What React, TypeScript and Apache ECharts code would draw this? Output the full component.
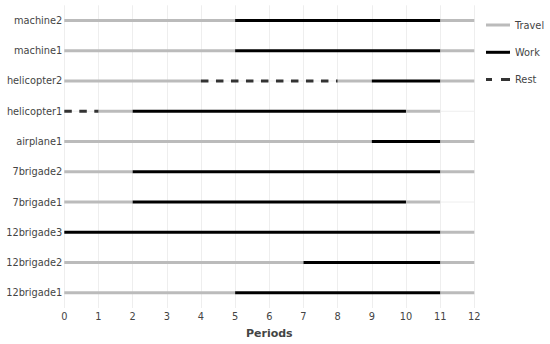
import React, { useEffect, useRef } from "react";
import * as echarts from "echarts";

const categories = [
  "12brigade1",
  "12brigade2",
  "12brigade3",
  "7brigade1",
  "7brigade2",
  "airplane1",
  "helicopter1",
  "helicopter2",
  "machine1",
  "machine2",
];

const xTicks = [0, 1, 2, 3, 4, 5, 6, 7, 8, 9, 10, 11, 12];

const legendNames = ["Travel", "Work", "Rest"];

// [row, start period, end period]
const travelSegments: [string, number, number][] = [
  ["machine2", 0, 5], ["machine2", 11, 12],
  ["machine1", 0, 5], ["machine1", 11, 12],
  ["helicopter2", 0, 4], ["helicopter2", 8, 9], ["helicopter2", 11, 12],
  ["helicopter1", 1, 2], ["helicopter1", 10, 11],
  ["airplane1", 0, 9], ["airplane1", 11, 12],
  ["7brigade2", 0, 2], ["7brigade2", 11, 12],
  ["7brigade1", 0, 2], ["7brigade1", 10, 11],
  ["12brigade3", 11, 12],
  ["12brigade2", 0, 7], ["12brigade2", 11, 12],
  ["12brigade1", 0, 5], ["12brigade1", 11, 12],
];

const workSegments: [string, number, number][] = [
  ["machine2", 5, 11],
  ["machine1", 5, 11],
  ["helicopter2", 9, 11],
  ["helicopter1", 2, 10],
  ["airplane1", 9, 11],
  ["7brigade2", 2, 11],
  ["7brigade1", 2, 10],
  ["12brigade3", 0, 11],
  ["12brigade2", 7, 11],
  ["12brigade1", 5, 11],
];

const restSegments: [string, number, number][] = [
  ["helicopter2", 4, 8],
  ["helicopter1", 0, 1],
];

const FONT = "'DejaVu Sans', Verdana, sans-serif";
const FS = 9.8;

export default function App() {
  const ref = useRef<HTMLDivElement>(null);

  useEffect(() => {
    if (!ref.current) return;
    const chart = echarts.init(ref.current, undefined, { renderer: "svg" });
    const xMin = xTicks[0];
    const xMax = xTicks[xTicks.length - 1];

    const gridRows = categories.map((c) => ({
      type: "line",
      name: "_grid",
      silent: true,
      symbol: "none",
      z: 0,
      lineStyle: { color: "#eeeeee", width: 1 },
      data: [[xMin, c], [xMax, c]],
      tooltip: { show: false },
    }));

    const mk = (
      segs: [string, number, number][],
      name: string,
      lineStyle: any,
      z: number
    ) =>
      segs.map(([row, s, e]) => ({
        type: "line",
        name,
        symbol: "none",
        z,
        lineStyle,
        itemStyle: { color: lineStyle.color },
        data: [[s, row], [e, row]],
      }));

    const series = [
      ...gridRows,
      ...mk(travelSegments, "Travel", { color: "#bbbbbb", width: 3, cap: "butt" }, 2),
      ...mk(workSegments, "Work", { color: "#000000", width: 3, cap: "butt" }, 3),
      ...mk(restSegments, "Rest", { color: "#333333", width: 3, type: [7.5, 7.5], cap: "butt" }, 3),
    ];

    const icons: Record<string, string> = {
      Travel: "rect",
      Work: "rect",
      Rest: "path://M0,0H6V3H0Z M15,0H24V3H15Z",
    };

    chart.setOption({
      animation: false,
      backgroundColor: "#ffffff",
      textStyle: { fontFamily: FONT },
      grid: { left: 64.3, right: 75.7, top: 5.3, bottom: 34.5 },
      legend: {
        data: legendNames.map((n) => ({ name: n, icon: icons[n] })),
        orient: "vertical",
        left: 481,
        top: 15,
        itemWidth: 24,
        itemHeight: 3,
        itemGap: 17.3,
        itemStyle: { borderWidth: 0 },
        lineStyle: { width: 0 },
        textStyle: { color: "#444", fontSize: FS, fontFamily: FONT },
      },
      xAxis: {
        type: "value",
        min: xMin,
        max: xMax,
        interval: 1,
        name: "Periods",
        nameLocation: "middle",
        nameGap: 20,
        nameTextStyle: { color: "#444", fontSize: 11, fontWeight: "bold", fontFamily: FONT },
        axisLine: { show: false },
        axisTick: { show: false },
        axisLabel: { color: "#444", fontSize: FS, margin: 3, fontFamily: FONT },
        splitLine: { show: true, lineStyle: { color: "#eeeeee", width: 1 } },
      },
      yAxis: {
        type: "category",
        data: categories,
        boundaryGap: true,
        axisLine: { show: false },
        axisTick: { show: false },
        axisLabel: { color: "#444", fontSize: FS, margin: 2, fontFamily: FONT },
        splitLine: { show: false },
      },
      series,
    });

    return () => chart.dispose();
  }, []);

  return (
    <div
      ref={ref}
      style={{ position: "absolute", left: 0, top: 0, width: 550, height: 344 }}
    />
  );
}
